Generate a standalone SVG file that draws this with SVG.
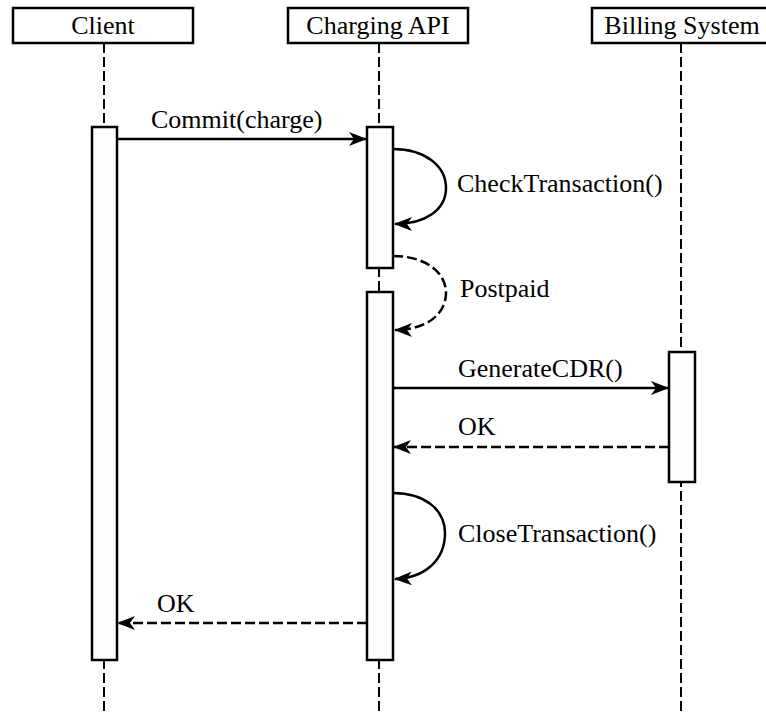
<svg xmlns="http://www.w3.org/2000/svg" width="766" height="714" viewBox="0 0 766 714">
<style>
  .box { fill: #ffffff; stroke: #000; stroke-width: 2.5; }
  .bar { fill: #fdfdfd; stroke: #000; stroke-width: 2.5; }
  .life { stroke: #000; stroke-width: 2; stroke-dasharray: 10 4; fill: none; }
  .msg { stroke: #000; stroke-width: 2.5; fill: none; }
  .ret { stroke: #000; stroke-width: 2.5; fill: none; stroke-dasharray: 10 4; }
  text { font-family: "Liberation Serif", "Times New Roman", Times, "DejaVu Serif", serif; font-size: 26px; fill: #000; }
  .hd { text-anchor: middle; }
</style>
<defs>
  <marker id="arr" viewBox="0 0 18 14" refX="17" refY="7" markerWidth="18" markerHeight="14" markerUnits="userSpaceOnUse" orient="auto">
    <path d="M0,0 L18,7 L0,14 L5,7 Z" fill="#000"/>
  </marker>
</defs>
<rect width="766" height="714" fill="#ffffff"/>
<g id="lifelines">
  <line class="life" x1="104" y1="43" x2="104" y2="714"/>
  <line class="life" x1="379" y1="43" x2="379" y2="714"/>
  <line class="life" x1="681" y1="43" x2="681" y2="714"/>
</g>
<g id="client">
  <rect class="box" x="13" y="8" width="180" height="35"/>
  <text class="hd" x="103" y="34">Client</text>
  <rect class="bar" x="92" y="127" width="25" height="533"/>
</g>
<g id="charging-api">
  <rect class="box" x="288" y="8" width="180" height="35"/>
  <text class="hd" x="378" y="34">Charging API</text>
  <rect class="bar" x="367" y="127" width="26" height="141"/>
  <rect class="bar" x="367" y="292" width="26" height="368"/>
</g>
<g id="billing-system">
  <rect class="box" x="592" y="8" width="180" height="35"/>
  <text class="hd" x="682" y="34">Billing System</text>
  <rect class="bar" x="669" y="352" width="26" height="130"/>
</g>
<g id="connectors">
  <line class="msg" x1="117" y1="139" x2="366" y2="139" marker-end="url(#arr)"/>
  <path class="msg" d="M393,149 C425,149 446,166 446,188 C446,210 425,224 395,224" marker-end="url(#arr)"/>
  <path class="ret" d="M393,256 C425,256 446,272 446,293 C446,315 425,330 395,330" marker-end="url(#arr)"/>
  <line class="msg" x1="393" y1="388" x2="668" y2="388" marker-end="url(#arr)"/>
  <line class="ret" x1="669" y1="447" x2="394" y2="447" marker-end="url(#arr)"/>
  <path class="msg" d="M393,493 C425,493 445,510 445,533 C445,560 425,578 395,579" marker-end="url(#arr)"/>
  <line class="ret" x1="367" y1="623" x2="118" y2="623" marker-end="url(#arr)"/>
</g>
<g id="labels">
  <text x="151" y="128">Commit(charge)</text>
  <text x="457" y="192">CheckTransaction()</text>
  <text x="460" y="297">Postpaid</text>
  <text x="458" y="377">GenerateCDR()</text>
  <text x="458" y="435">OK</text>
  <text x="458" y="542">CloseTransaction()</text>
  <text x="157" y="612">OK</text>
</g>
</svg>
